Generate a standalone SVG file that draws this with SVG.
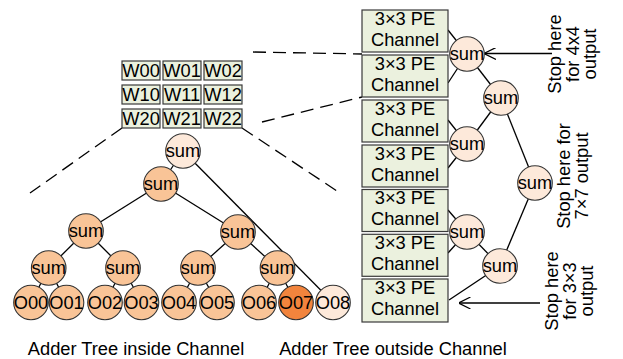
<svg xmlns="http://www.w3.org/2000/svg" width="623" height="359" viewBox="0 0 623 359">
<style>
text{font-family:"Liberation Sans",Arial,sans-serif;font-size:18.3px;fill:#000}
.t{text-anchor:middle}
.w{fill:#EBF1DE;stroke:#3a3a3a;stroke-width:1.2}
.pe{fill:#EBF1DE;stroke:#3a3a3a;stroke-width:1.2}
.lt{fill:#FDE9DA;stroke:#333;stroke-width:1.1}
.or{fill:#F9C497;stroke:#333;stroke-width:1.1}
.dk{fill:#F2843D;stroke:#333;stroke-width:1.1}
.ln{stroke:#000;stroke-width:1.3;fill:none}
.dash{stroke:#000;stroke-width:1.3;fill:none;stroke-dasharray:13 7}
</style>
<defs>
<marker id="open" viewBox="0 0 12 12" refX="11.5" refY="6" markerWidth="12" markerHeight="12" markerUnits="userSpaceOnUse" orient="auto">
<path d="M0,0 L12,6 L0,12" fill="none" stroke="#000" stroke-width="1.2"/>
</marker>
</defs>

<g id="projection">
<line class="dash" x1="122" y1="128" x2="30" y2="193"/>
<line class="dash" x1="242" y1="128" x2="340" y2="193"/>
<line class="dash" x1="253" y1="52" x2="362" y2="54"/>
<line class="dash" x1="262" y1="122" x2="362" y2="97"/>
</g>

<g id="connectors">
<line class="ln" x1="183" y1="151" x2="161" y2="184"/>
<line class="ln" x1="183" y1="151" x2="333" y2="302.5"/>
<line class="ln" x1="161" y1="184" x2="86" y2="231"/>
<line class="ln" x1="161" y1="184" x2="238" y2="232"/>
<line class="ln" x1="86" y1="231" x2="48.7" y2="268"/>
<line class="ln" x1="86" y1="231" x2="123" y2="268"/>
<line class="ln" x1="238" y1="232" x2="198" y2="268"/>
<line class="ln" x1="238" y1="232" x2="277.5" y2="268"/>
<line class="ln" x1="48.7" y1="268" x2="31" y2="302.5"/>
<line class="ln" x1="48.7" y1="268" x2="66.5" y2="302.5"/>
<line class="ln" x1="123" y1="268" x2="105" y2="302.5"/>
<line class="ln" x1="123" y1="268" x2="141.5" y2="302.5"/>
<line class="ln" x1="198" y1="268" x2="179" y2="302.5"/>
<line class="ln" x1="198" y1="268" x2="217" y2="302.5"/>
<line class="ln" x1="277.5" y1="268" x2="259" y2="302.5"/>
<line class="ln" x1="277.5" y1="268" x2="296" y2="302.5"/>

<line class="ln" x1="448" y1="30" x2="467" y2="54"/>
<line class="ln" x1="448" y1="83" x2="467" y2="54"/>
<line class="ln" x1="448" y1="120" x2="467" y2="144"/>
<line class="ln" x1="448" y1="168" x2="467" y2="144"/>
<line class="ln" x1="448" y1="210" x2="467" y2="232"/>
<line class="ln" x1="448" y1="253" x2="467" y2="232"/>
<line class="ln" x1="449" y1="300" x2="500" y2="266"/>
<line class="ln" x1="467" y1="54" x2="501" y2="98"/>
<line class="ln" x1="467" y1="144" x2="501" y2="98"/>
<line class="ln" x1="501" y1="98" x2="535" y2="183"/>
<line class="ln" x1="500" y1="266" x2="535" y2="183"/>
<line class="ln" x1="467" y1="232" x2="500" y2="266"/>
<line class="ln" x1="552" y1="53.5" x2="484.5" y2="53.5" marker-end="url(#open)"/>
<line class="ln" x1="540" y1="303" x2="459" y2="303" marker-end="url(#open)"/>
</g>

<g id="weights">
<rect class="w" x="122" y="61" width="38" height="19"/><text x="141" y="77" class="t">W00</text>
<rect class="w" x="163" y="61" width="38" height="19"/><text x="182" y="77" class="t">W01</text>
<rect class="w" x="204" y="61" width="38" height="19"/><text x="223" y="77" class="t">W02</text>
<rect class="w" x="122" y="85" width="38" height="19"/><text x="141" y="101" class="t">W10</text>
<rect class="w" x="163" y="85" width="38" height="19"/><text x="182" y="101" class="t">W11</text>
<rect class="w" x="204" y="85" width="38" height="19"/><text x="223" y="101" class="t">W12</text>
<rect class="w" x="122" y="109" width="38" height="19"/><text x="141" y="125" class="t">W20</text>
<rect class="w" x="163" y="109" width="38" height="19"/><text x="182" y="125" class="t">W21</text>
<rect class="w" x="204" y="109" width="38" height="19"/><text x="223" y="125" class="t">W22</text>
</g>

<g id="in-root"><circle class="lt" cx="183" cy="151" r="17.3"/><text x="183" y="156.5" class="t">sum</text></g>
<g id="in-s2"><circle class="or" cx="161" cy="184" r="17.3"/><text x="161" y="189.5" class="t">sum</text></g>
<g id="in-s3a"><circle class="or" cx="86" cy="231" r="17.3"/><text x="86" y="236.5" class="t">sum</text></g>
<g id="in-s3b"><circle class="or" cx="238" cy="232" r="17.3"/><text x="238" y="237.5" class="t">sum</text></g>
<g id="in-s4a"><circle class="or" cx="48.7" cy="268" r="17.3"/><text x="48.7" y="273.5" class="t">sum</text></g>
<g id="in-s4b"><circle class="or" cx="123" cy="268" r="17.3"/><text x="123" y="273.5" class="t">sum</text></g>
<g id="in-s4c"><circle class="or" cx="198" cy="268" r="17.3"/><text x="198" y="273.5" class="t">sum</text></g>
<g id="in-s4d"><circle class="or" cx="277.5" cy="268" r="17.3"/><text x="277.5" y="273.5" class="t">sum</text></g>

<g id="O00"><circle class="or" cx="31" cy="302.5" r="17.3"/><text x="31" y="309" class="t">O00</text></g>
<g id="O01"><circle class="or" cx="66.5" cy="302.5" r="17.3"/><text x="66.5" y="309" class="t">O01</text></g>
<g id="O02"><circle class="or" cx="105" cy="302.5" r="17.3"/><text x="105" y="309" class="t">O02</text></g>
<g id="O03"><circle class="or" cx="141.5" cy="302.5" r="17.3"/><text x="141.5" y="309" class="t">O03</text></g>
<g id="O04"><circle class="or" cx="179" cy="302.5" r="17.3"/><text x="179" y="309" class="t">O04</text></g>
<g id="O05"><circle class="or" cx="217" cy="302.5" r="17.3"/><text x="217" y="309" class="t">O05</text></g>
<g id="O06"><circle class="or" cx="259" cy="302.5" r="17.3"/><text x="259" y="309" class="t">O06</text></g>
<g id="O07"><circle class="dk" cx="296" cy="302.5" r="17.3"/><text x="296" y="309" class="t">O07</text></g>
<g id="O08"><circle class="lt" cx="333" cy="302.5" r="17.3"/><text x="333" y="309" class="t">O08</text></g>

<g id="pe1"><rect class="pe" x="362" y="10" width="86" height="42"/><text x="405" y="24.8" class="t">3×3 PE</text><text x="405" y="45.5" class="t">Channel</text></g>
<g id="pe2"><rect class="pe" x="362" y="55" width="86" height="42"/><text x="405" y="69.8" class="t">3×3 PE</text><text x="405" y="90.5" class="t">Channel</text></g>
<g id="pe3"><rect class="pe" x="362" y="100" width="86" height="42"/><text x="405" y="114.8" class="t">3×3 PE</text><text x="405" y="135.5" class="t">Channel</text></g>
<g id="pe4"><rect class="pe" x="362" y="145" width="86" height="42"/><text x="405" y="159.8" class="t">3×3 PE</text><text x="405" y="180.5" class="t">Channel</text></g>
<g id="pe5"><rect class="pe" x="362" y="189.5" width="86" height="42"/><text x="405" y="204.3" class="t">3×3 PE</text><text x="405" y="225" class="t">Channel</text></g>
<g id="pe6"><rect class="pe" x="362" y="234.3" width="86" height="42"/><text x="405" y="249.1" class="t">3×3 PE</text><text x="405" y="269.8" class="t">Channel</text></g>
<g id="pe7"><rect class="pe" x="362" y="279" width="86" height="43"/><text x="405" y="294" class="t">3×3 PE</text><text x="405" y="315" class="t">Channel</text></g>

<g id="out-c1"><circle class="lt" cx="467" cy="54" r="17.3"/><text x="467" y="59.5" class="t">sum</text></g>
<g id="out-c2"><circle class="lt" cx="501" cy="98" r="17.3"/><text x="501" y="103.5" class="t">sum</text></g>
<g id="out-c3"><circle class="lt" cx="467" cy="144" r="17.3"/><text x="467" y="149.5" class="t">sum</text></g>
<g id="out-c4"><circle class="lt" cx="535" cy="183" r="17.3"/><text x="535" y="188.5" class="t">sum</text></g>
<g id="out-c5"><circle class="lt" cx="467" cy="232" r="17.3"/><text x="467" y="237.5" class="t">sum</text></g>
<g id="out-c6"><circle class="lt" cx="500" cy="266" r="17.3"/><text x="500" y="271.5" class="t">sum</text></g>

<g id="note-4x4" class="t">
<text class="t" transform="translate(561,54) rotate(-90)">Stop here</text>
<text class="t" transform="translate(578.5,54) rotate(-90)">for 4x4</text>
<text class="t" transform="translate(596,54) rotate(-90)">output</text>
</g>
<g id="note-7x7">
<text class="t" transform="translate(570,176) rotate(-90)">Stop here for</text>
<text class="t" transform="translate(587.5,176) rotate(-90)">7×7 output</text>
</g>
<g id="note-3x3">
<text class="t" transform="translate(558,291) rotate(-90)">Stop here</text>
<text class="t" transform="translate(575.5,291) rotate(-90)">for 3×3</text>
<text class="t" transform="translate(593,291) rotate(-90)">output</text>
</g>

<g id="captions">
<text x="136" y="354.5" class="t">Adder Tree inside Channel</text>
<text x="393" y="354.5" class="t">Adder Tree outside Channel</text>
</g>
</svg>
